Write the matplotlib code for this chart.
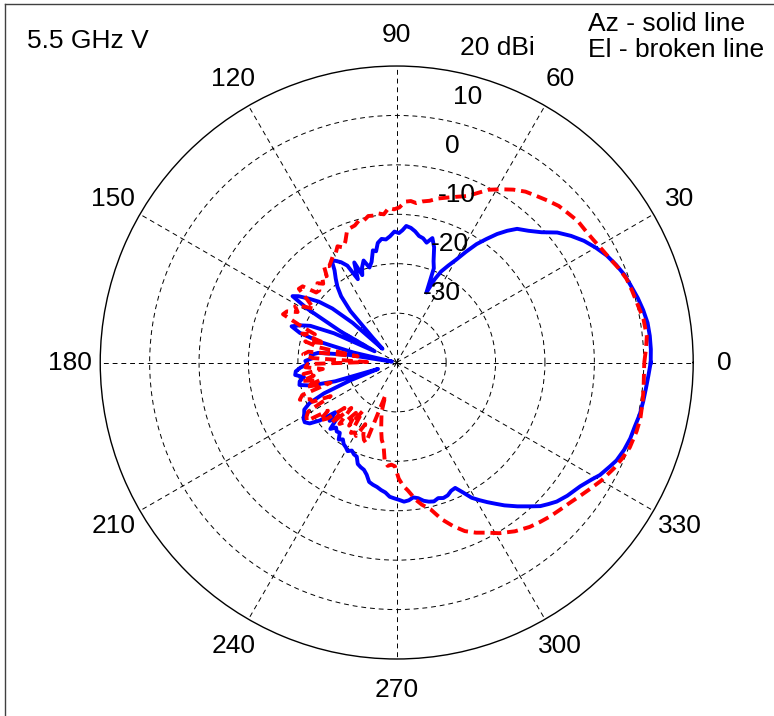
import numpy as np
import matplotlib
matplotlib.use('Agg')
import matplotlib.pyplot as plt
from matplotlib.lines import Line2D
from matplotlib.transforms import offset_copy

plt.rcParams['font.family'] = ['Liberation Sans', 'DejaVu Sans']

# Az pattern (solid blue): angle in degrees, gain in dBi
az_deg = [0, 3, 6, 9, 12, 15, 18, 21, 24, 27, 30, 33, 36, 39, 42, 45, 48, 50, 52, 54,
          56, 58, 60, 62, 64, 65.5, 67, 68.5, 70, 72, 74, 76, 78, 80, 82, 84, 86, 87.5, 89, 91,
          93, 95, 97, 99, 100.5, 102, 104, 106, 108, 110, 111.5, 113, 115, 117, 119, 121, 122.5, 124, 126, 128,
          130, 132, 134, 136, 138, 140, 142, 144, 146, 147.5, 149, 151, 153, 155, 157, 159, 161, 163, 165, 167,
          169, 171, 173, 175, 177, 179, 181, 183, 185, 187, 189, 191, 193, 195, 197, 199, 201, 203, 205, 207,
          209, 211, 213, 215, 217, 219, 221, 223, 225, 227, 229, 231, 233, 235, 237, 239, 241, 243, 245, 247,
          249, 251, 253, 255, 257, 259, 261, 263, 265, 267, 269, 271, 273, 275, 277, 279, 281, 283, 285, 287,
          289, 291, 293, 295, 297, 299, 301, 303, 305, 307, 310, 313, 315, 317, 319, 322, 326, 329, 331, 334,
          336, 339, 342, 345, 348, 351, 354, 357]
az_db = [11.4, 11.5, 11.5, 11.4, 11.0, 10.5, 9.9, 9.4, 8.6, 7.7, 6.5, 5.2, 3.6, 1.8, -0.6, -2.3, -3.6, -5.2, -7.0, -9.1,
         -11.1, -13.6, -16.0, -17.8, -19.5, -21.5, -24.6, -19.5, -18.2, -15.5, -13.8, -15.0, -14.3, -14.0, -13.2, -12.6, -12.3, -13.2, -13.8, -13.5,
         -14.4, -15.0, -14.8, -15.5, -17.1, -16.8, -19.0, -20.0, -18.3, -19.5, -21.0, -18.0, -21.4, -18.0, -16.8, -16.0, -15.5, -17.5, -19.0, -20.5,
         -22.5, -26.0, -33.0, -36.0, -28.0, -23.0, -20.0, -18.0, -16.0, -15.0, -19.0, -27.0, -35.0, -26.0, -21.0, -19.0, -17.5, -19.5, -24.0, -31.0,
         -39.0, -30.0, -24.0, -22.5, -23.0, -21.5, -22.0, -20.5, -19.5, -19.3, -21.0, -20.0, -19.8, -22.0, -27.0, -36.0, -30.0, -24.0, -20.5, -19.0,
         -18.6, -18.0, -17.8, -18.5, -20.5, -24.0, -22.0, -23.5, -21.0, -22.0, -21.5, -21.7, -20.5, -21.0, -20.3, -20.0, -19.5, -20.0, -19.5, -19.3,
         -18.0, -17.6, -17.3, -16.5, -15.2, -14.8, -14.5, -14.0, -13.6, -12.8, -12.5, -12.2, -11.8, -12.0, -12.5, -12.2, -11.5, -11.1, -10.9, -11.3,
         -11.0, -11.2, -11.8, -12.0, -10.5, -8.7, -7.5, -6.3, -5.1, -3.8, -2.0, -0.2, 1.1, 2.0, 2.9, 3.8, 4.8, 6.0, 7.0, 8.0,
         8.7, 9.3, 9.7, 9.9, 10.3, 10.5, 10.7, 11.0]

# El pattern (dashed red): angle in degrees, gain in dBi
el_deg = [0, 3, 6, 10, 14, 17, 20, 23, 26, 29, 32, 35, 38, 41, 44, 47, 50, 53, 56, 59,
          62, 64, 67, 70, 73, 76, 78.5, 81, 83, 85, 87, 89, 91, 93, 95, 97, 99, 101, 103, 105,
          107, 109, 111, 113, 115, 117, 119, 121, 123, 125, 127, 129, 131, 133, 135, 137, 139, 141, 143, 145,
          147, 149, 151, 153, 155, 157, 159, 161, 163, 165, 167, 169, 171, 173, 175, 177, 179, 181, 183, 185,
          187, 189, 191, 193, 195, 197, 199, 201, 203, 205, 207, 209, 211, 213, 215, 217, 219, 221, 223, 225,
          227, 229, 231, 233, 235, 237, 239, 241, 243, 245, 247, 249, 251, 253, 255, 257, 259, 261, 263, 265,
          267, 269, 271, 273, 275, 278, 280, 283, 286, 289, 292, 295, 298, 301, 305, 309, 312, 315, 318, 321,
          324, 327, 330, 334, 337, 340, 344, 347, 351, 354.5, 357]
el_db = [10.1, 10.5, 10.9, 10.7, 10.1, 9.8, 9.5, 8.8, 8.0, 7.4, 6.9, 6.6, 6.5, 6.0, 5.6, 4.8, 4.0, 3.3, 2.2, 0.9,
         -0.4, -1.7, -3.4, -4.3, -5.1, -5.8, -6.6, -7.0, -7.5, -7.2, -7.4, -8.6, -9.0, -8.7, -9.9, -9.6, -9.9, -9.8, -10.5, -10.3,
         -11.0, -11.2, -11.8, -13.4, -14.3, -13.6, -14.6, -14.9, -15.6, -16.2, -15.5, -17.5, -17.0, -18.2, -17.3, -18.6, -18.4, -15.5, -15.2, -18.0,
         -20.0, -18.0, -16.5, -17.5, -15.5, -15.0, -19.0, -22.5, -20.0, -25.0, -21.0, -24.0, -32.0, -22.0, -21.0, -23.0, -34.0, -22.0, -21.5, -25.0,
         -21.0, -23.0, -20.5, -24.0, -21.0, -26.0, -19.8, -19.0, -21.0, -21.2, -25.0, -19.5, -18.7, -18.3, -23.0, -20.5, -22.0, -26.0, -22.0, -27.0,
         -23.0, -24.0, -26.9, -24.0, -28.0, -23.0, -23.5, -23.0, -26.0, -24.0, -23.0, -22.6, -33.0, -29.5, -28.0, -26.0, -24.1, -23.0, -20.0, -19.0,
         -19.3, -19.0, -16.5, -15.0, -14.0, -11.9, -10.8, -9.5, -7.0, -5.0, -3.2, -2.0, -1.0, 0.3, 1.7, 2.8, 3.4, 4.0, 4.5, 5.1,
         5.9, 6.8, 7.8, 8.9, 9.6, 10.2, 10.5, 10.6, 10.4, 10.2, 10.1]

ring_vals = [-30, -20, -10, 0, 10, 20]
ring_labels = ['-30', '-20', '-10', '0', '10', '20 dBi']
spoke_deg = [0, 30, 60, 90, 120, 150, 180, 210, 240, 270, 300, 330]

W, H = 774, 716
FS = 19
fig = plt.figure(figsize=(W / 100, H / 100), dpi=100)
ax = fig.add_axes([0.1295, 0.0796, 0.7661, 0.8282], projection='polar')
ax.set_rlim(-40, 20)
ax.set_thetagrids(spoke_deg, [''] * len(spoke_deg))
ax.set_rgrids(ring_vals[:-1], [''] * (len(ring_vals) - 1))
ax.grid(True, color='k', lw=0.7, ls=(0, (5, 4)))
ax.tick_params(length=0)
ax.spines['polar'].set_linewidth(1.0)

# angle labels outside the circle
for a in spoke_deg:
    ax.text(np.deg2rad(a), 26.2, str(a), ha='center', va='center',
            fontsize=FS, clip_on=False)

# dB labels along the ~81 deg line, shifted like matlab's polar()
lab_tr = offset_copy(ax.transData, fig=fig, x=19, y=21, units='dots')
for v, s in zip(ring_vals, ring_labels):
    ax.text(np.deg2rad(81.4), v, s, transform=lab_tr, ha='left', va='center',
            fontsize=FS, clip_on=False)

th_az = np.deg2rad(np.append(az_deg, az_deg[0] + 360))
th_el = np.deg2rad(np.append(el_deg, el_deg[0] + 360))
ax.plot(th_az, np.append(az_db, az_db[0]), color='#0000ff', lw=2.8)
ax.plot(th_el, np.append(el_db, el_db[0]), color='#ff0000', lw=2.8,
        ls=(0, (2.8, 1.5)))

fig.text(27 / W, 1 - 41 / H, '5.5 GHz V', ha='left', va='center', fontsize=FS)
fig.text(588 / W, 1 - 24 / H, 'Az - solid line', ha='left', va='center', fontsize=FS)
fig.text(588 / W, 1 - 50 / H, 'El - broken line', ha='left', va='center', fontsize=FS)

# frame of the screenshot
fig.add_artist(Line2D([5 / W, 5 / W], [0, 1 - 3.5 / H], transform=fig.transFigure,
                      color='#404040', lw=1))
fig.add_artist(Line2D([5 / W, 1], [1 - 3.5 / H, 1 - 3.5 / H], transform=fig.transFigure,
                      color='#404040', lw=1))

fig.savefig('out.png', dpi=100)
